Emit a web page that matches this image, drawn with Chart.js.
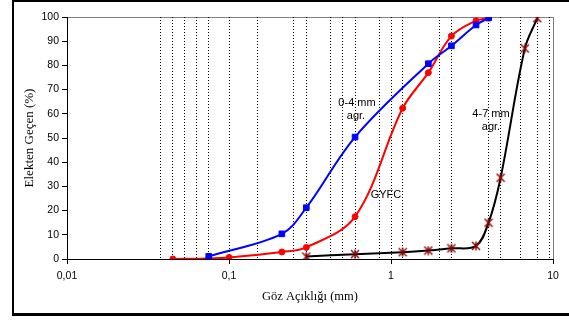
<!DOCTYPE html>
<html>
<head>
<meta charset="utf-8">
<script src="https://cdn.jsdelivr.net/npm/chart.js@4/dist/chart.umd.min.js"></script>
<style>
    html, body { margin: 0; padding: 0; background: #fff; overflow: hidden; }
    #wrap { position: relative; width: 569px; height: 320px; overflow: hidden; }
    #gradChart { display: block; }
    #frame {
        position: absolute; left: 12px; top: 0; width: 600px; height: 316px;
        border: 2px solid #000; border-right: none; border-bottom-width: 3px; box-sizing: border-box;
        pointer-events: none;
    }
</style>
</head>
<body>
<div id="wrap">
    <canvas id="gradChart" width="569" height="320"></canvas>
    <div id="frame"></div>
</div>
<script>
// Elek açıklıkları (mm) ve geçen yüzdeleri
const blueSizes = [0.075, 0.212, 0.3, 0.6, 1.7, 2.36, 3.35, 4];
const bluePass = [1.1, 10.4, 21.2, 50.4, 80.7, 88.1, 96.7, 99.6];

const redSizes = [0.045, 0.075, 0.1, 0.212, 0.3, 0.6, 1.18, 1.7, 2.36, 3.35, 4];
const redPass = [0, 0.2, 0.6, 2.9, 4.8, 17.5, 62.3, 77, 92.1, 98.5, 99.6];

const blackSizes = [0.3, 0.6, 1.18, 1.7, 2.36, 3.35, 4, 4.75, 6.7, 8];
const blackPass = [1, 2, 2.8, 3.5, 4.4, 5.4, 15, 33.6, 87, 99.5];

// dikey noktalı çizgiler (elek boyutları)
const sieveLines = [0.038, 0.045, 0.053, 0.063, 0.075, 0.1, 0.15, 0.25, 0.3, 0.425, 0.5, 0.6,
    0.85, 1, 1.18, 2, 2.36, 4, 4.75, 6.3, 8, 9.5];
const decadeTicks = [0.01, 0.1, 1, 10];
const yTicks = [0, 10, 20, 30, 40, 50, 60, 70, 80, 90, 100];

const sansFont = 'Arial, "Liberation Sans", sans-serif';
const serifFont = '"Times New Roman", "Liberation Serif", serif';

function toPoints(xs, ys) {
    return xs.map((x, i) => ({ x: x, y: ys[i] }));
}

// asterisk benzeri işaret
function starMarker(color) {
    const c = document.createElement('canvas');
    c.width = 10;
    c.height = 10;
    const g = c.getContext('2d');
    g.strokeStyle = color;
    g.lineWidth = 1.4;
    g.beginPath();
    g.moveTo(1, 1); g.lineTo(9, 9);
    g.moveTo(9, 1); g.lineTo(1, 9);
    g.moveTo(5, 0.5); g.lineTo(5, 9.5);
    g.stroke();
    return c;
}

const plotFrame = {
    id: 'plotFrame',
    beforeDraw(chart) {
        const { ctx, chartArea: a } = chart;
        ctx.save();
        ctx.strokeStyle = '#808080';
        ctx.lineWidth = 1;
        ctx.strokeRect(Math.round(a.left) + 0.5, Math.round(a.top) + 0.5,
            Math.round(a.right - a.left), Math.round(a.bottom - a.top));
        ctx.restore();
    }
};

const notes = [
    { text: '0-4 mm', x: 357, y: 103 },
    { text: 'agr.', x: 356, y: 116 },
    { text: 'GYFC', x: 386, y: 195 },
    { text: '4-7 mm', x: 491, y: 114 },
    { text: 'agr.', x: 491, y: 127 }
];

const noteLabels = {
    id: 'noteLabels',
    afterDatasetsDraw(chart) {
        const ctx = chart.ctx;
        ctx.save();
        ctx.font = '11px ' + sansFont;
        ctx.fillStyle = '#000';
        ctx.textAlign = 'center';
        ctx.textBaseline = 'middle';
        notes.forEach(n => ctx.fillText(n.text, n.x, n.y));
        ctx.restore();
    }
};

const isDecade = v => decadeTicks.some(d => Math.abs(d - v) < 1e-9);

new Chart(document.getElementById('gradChart'), {
    type: 'line',
    data: {
        datasets: [{
            label: '0-4 mm agr.',
            data: toPoints(blueSizes, bluePass),
            borderColor: '#0000ff',
            backgroundColor: '#0000ff',
            borderWidth: 2,
            pointStyle: 'rect',
            pointRadius: 4,
            pointBorderWidth: 1,
            tension: 0.35
        }, {
            label: 'GYFC',
            data: toPoints(redSizes, redPass),
            borderColor: '#ff0000',
            backgroundColor: '#ff0000',
            borderWidth: 2,
            pointStyle: 'circle',
            pointRadius: 3,
            pointBorderWidth: 1,
            tension: 0.35
        }, {
            label: '4-7 mm agr.',
            data: toPoints(blackSizes, blackPass),
            borderColor: '#000000',
            backgroundColor: '#8b0000',
            borderWidth: 2,
            pointStyle: starMarker('#8b0000'),
            tension: 0.35
        }]
    },
    options: {
        responsive: false,
        animation: false,
        devicePixelRatio: 1,
        layout: { padding: { left: 0, top: 17, right: 16, bottom: 0 } },
        plugins: {
            legend: { display: false },
            tooltip: { enabled: false }
        },
        scales: {
            x: {
                type: 'logarithmic',
                min: 0.01,
                max: 10,
                afterBuildTicks: scale => {
                    scale.ticks = [0.01, ...sieveLines, 10].map(v => ({ value: v }));
                },
                afterFit: scale => { scale.height = 61; },
                ticks: {
                    autoSkip: false,
                    maxRotation: 0,
                    padding: 6,
                    color: '#000',
                    font: { family: sansFont, size: 10.5 },
                    callback: v => isDecade(v) ? String(v).replace('.', ',') : ''
                },
                grid: {
                    color: c => (c.tick && (c.tick.value === 0.01 || c.tick.value === 10)) ? 'rgba(0,0,0,0)' : '#000',
                    lineWidth: 1,
                    tickLength: 5,
                    tickColor: c => (c.tick && isDecade(c.tick.value)) ? '#000' : 'rgba(0,0,0,0)'
                },
                border: { color: '#000', width: 1, dash: [1, 2] },
                title: {
                    display: true,
                    text: 'Göz Açıklığı (mm)',
                    color: '#000',
                    font: { family: serifFont, size: 12.5 },
                    padding: { top: 0, bottom: 16 }
                }
            },
            y: {
                min: 0,
                max: 100,
                afterBuildTicks: scale => {
                    scale.ticks = yTicks.map(v => ({ value: v }));
                },
                afterFit: scale => { scale.width = 67; },
                ticks: {
                    padding: 3,
                    color: '#000',
                    font: { family: sansFont, size: 10.5 }
                },
                grid: {
                    drawOnChartArea: false,
                    tickLength: 5,
                    tickColor: '#000'
                },
                border: { color: '#000', width: 1 },
                title: {
                    display: true,
                    text: 'Elekten Geçen (%)',
                    color: '#000',
                    font: { family: serifFont, size: 13 },
                    padding: { top: 22, bottom: 0 }
                }
            }
        }
    },
    plugins: [plotFrame, noteLabels]
});
</script>
</body>
</html>
